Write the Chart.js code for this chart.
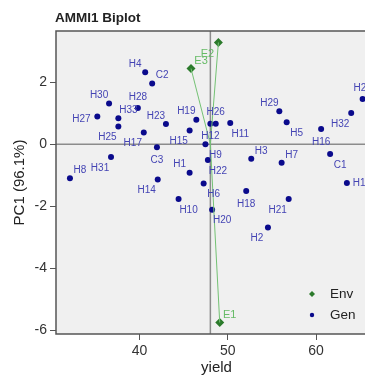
<!DOCTYPE html>
<html>
<head>
<meta charset="utf-8">
<script src="https://cdn.jsdelivr.net/npm/chart.js@4"></script>
<style>
  html, body { margin: 0; padding: 0; background: #fff; overflow: hidden; }
  #wrap { width: 365px; height: 377px; overflow: hidden; }
</style>
</head>
<body>
<div id="wrap"><canvas id="biplot" width="385" height="377"></canvas></div>
<script>
// genotypes: mean yield (x) and PC1 score (y)
var genNames = ['H1','H2','H3','H4','H5','H6','H7','H8','H9','H10','H11','H12','H13','H14','H15','H16','H17',
  'H18','H19','H20','H21','H22','H23','H24','H25','H26','H27','H28','H29','H30','H31','H32','H33','C1','C2','C3'];
var genYield = [45.68,54.55,52.66,40.65,56.67,47.27,56.1,32.13,47.47,44.43,50.28,48.03,63.49,42.07,45.68,60.57,40.49,
  52.09,46.44,48.23,56.9,47.75,43.0,65.27,37.61,48.64,35.23,39.82,55.84,36.56,36.78,63.98,37.61,61.59,41.44,41.98];
var genPC1 = [-0.92,-2.69,-0.47,2.32,0.71,-1.27,-0.60,-1.10,0.0,-1.77,0.68,0.66,-1.25,-1.14,0.44,0.49,0.38,
  -1.51,0.79,-2.11,-1.77,-0.51,0.65,1.46,0.57,0.66,0.89,1.17,1.06,1.31,-0.41,1.01,0.84,-0.32,1.96,-0.10];

// environments
var envNames = ['E1','E2','E3'];
var envYield = [49.09,48.94,45.84];
var envPC1 = [-5.75,3.28,2.44];

var meanYield = 48.03;
var xTicks = [40,50,60];
var yTicks = [-6,-4,-2,0,2];

// which side of the point each label sits on
var genLabelSide = ['nw','sw','ne','nw','se','se','ne','ne','se','se','se','s','e','sw','sw','s','sw',
  's','nw','se','sw','se','nw','n','sw','n','w','n','nw','nw','sw','sw','ne','se','ne','s'];
var envLabelSide = ['ne','sw','ne'];
var sideOffset = {nw:[-10,-8], ne:[10,-8], sw:[-11,11], se:[10,11], n:[0,-11], s:[0,13], w:[-16,3], e:[15,0]};

var FONT = "'Liberation Sans', Arial, sans-serif";
Chart.defaults.font.family = FONT;

var genPoints = genNames.map(function(n, i){ return {x: genYield[i], y: genPC1[i]}; });
var envPoints = envNames.map(function(n, i){ return {x: envYield[i], y: envPC1[i]}; });
var vectorPoints = [];
envPoints.forEach(function(p){
  vectorPoints.push({x: meanYield, y: 0});
  vectorPoints.push(p);
  vectorPoints.push({x: null, y: null});
});

var biplotDecor = {
  id: 'biplotDecor',
  beforeDraw: function(chart){
    var c = chart.ctx, a = chart.chartArea;
    c.save();
    c.fillStyle = '#ffffff';
    c.fillRect(0, 0, chart.width, chart.height);
    c.fillStyle = '#f0f0f0';
    c.fillRect(a.left, a.top, a.right - a.left, a.bottom - a.top);
    c.restore();
  },
  beforeDatasetsDraw: function(chart){
    var c = chart.ctx, a = chart.chartArea;
    var xs = chart.scales.x, ys = chart.scales.y;
    var px = xs.getPixelForValue(meanYield), py = ys.getPixelForValue(0);
    c.save();
    c.strokeStyle = '#8c8c8c';
    c.lineWidth = 1.5;
    c.beginPath();
    c.moveTo(px, a.top); c.lineTo(px, a.bottom);
    c.moveTo(a.left, py); c.lineTo(a.right, py);
    c.stroke();
    c.restore();
  },
  afterDraw: function(chart){
    var c = chart.ctx, a = chart.chartArea;
    var xs = chart.scales.x, ys = chart.scales.y;
    c.save();
    // frame
    c.strokeStyle = '#555555';
    c.lineWidth = 1.5;
    c.strokeRect(a.left, a.top, a.right - a.left, a.bottom - a.top);

    // point labels
    c.textAlign = 'center';
    c.textBaseline = 'middle';
    c.font = '10px ' + FONT;
    c.fillStyle = '#4444b4';
    genNames.forEach(function(n, i){
      var o = sideOffset[genLabelSide[i]];
      c.fillText(n, xs.getPixelForValue(genYield[i]) + o[0], ys.getPixelForValue(genPC1[i]) + o[1]);
    });
    c.font = '11px ' + FONT;
    c.fillStyle = '#66bb66';
    envNames.forEach(function(n, i){
      var o = sideOffset[envLabelSide[i]];
      c.fillText(n, xs.getPixelForValue(envYield[i]) + o[0], ys.getPixelForValue(envPC1[i]) + o[1]);
    });

    // title and axis titles
    c.fillStyle = '#222222';
    c.font = 'bold 13.5px ' + FONT;
    c.textAlign = 'left';
    c.textBaseline = 'alphabetic';
    c.fillText('AMMI1 Biplot', a.left - 1, 22);
    c.font = '15px ' + FONT;
    c.textAlign = 'center';
    c.textBaseline = 'middle';
    c.fillText('yield', (a.left + a.right) / 2, 368);
    c.save();
    c.translate(20, (a.top + a.bottom) / 2);
    c.rotate(-Math.PI / 2);
    c.fillText('PC1 (96.1%)', 0, 0);
    c.restore();

    // legend
    c.fillStyle = '#2b7a2b';
    c.beginPath();
    c.moveTo(312, 291); c.lineTo(315, 294); c.lineTo(312, 297); c.lineTo(309, 294);
    c.closePath(); c.fill();
    c.fillStyle = '#0a0a8c';
    c.beginPath();
    c.arc(312, 315, 2.2, 0, Math.PI * 2);
    c.fill();
    c.fillStyle = '#222222';
    c.font = '13.5px ' + FONT;
    c.textAlign = 'left';
    c.fillText('Env', 330, 294);
    c.fillText('Gen', 330, 315);
    c.restore();
  }
};

new Chart(document.getElementById('biplot'), {
  type: 'scatter',
  data: {
    datasets: [
      {
        label: 'vectors',
        data: vectorPoints,
        showLine: true,
        spanGaps: false,
        borderColor: '#74c274',
        borderWidth: 1,
        pointRadius: 0,
        pointHoverRadius: 0
      },
      {
        label: 'Env',
        data: envPoints,
        pointStyle: 'rectRot',
        pointRadius: 4.5,
        backgroundColor: '#2b7a2b',
        borderColor: '#2b7a2b',
        borderWidth: 0
      },
      {
        label: 'Gen',
        data: genPoints,
        pointStyle: 'circle',
        pointRadius: 3,
        backgroundColor: '#0a0a8c',
        borderColor: '#0a0a8c',
        borderWidth: 0
      }
    ]
  },
  options: {
    responsive: false,
    animation: false,
    events: [],
    layout: { padding: { left: 0, top: 31, right: 8, bottom: 0 } },
    plugins: { legend: { display: false }, tooltip: { enabled: false }, title: { display: false } },
    scales: {
      x: {
        type: 'linear',
        min: 30.55,
        max: 66.9,
        afterBuildTicks: function(s){ s.ticks = xTicks.map(function(v){ return {value: v}; }); },
        afterFit: function(s){ s.height = 43; },
        grid: { drawOnChartArea: false, drawTicks: true, tickLength: 6, color: '#555555' },
        border: { display: false },
        ticks: { color: '#333333', font: { size: 14 }, padding: 3, maxRotation: 0 }
      },
      y: {
        type: 'linear',
        min: -6.12,
        max: 3.65,
        afterBuildTicks: function(s){ s.ticks = yTicks.map(function(v){ return {value: v}; }); },
        afterFit: function(s){ s.width = 56; },
        grid: { drawOnChartArea: false, drawTicks: true, tickLength: 6, color: '#555555' },
        border: { display: false },
        ticks: { color: '#333333', font: { size: 14 }, padding: 3 }
      }
    }
  },
  plugins: [biplotDecor]
});
</script>
</body>
</html>
